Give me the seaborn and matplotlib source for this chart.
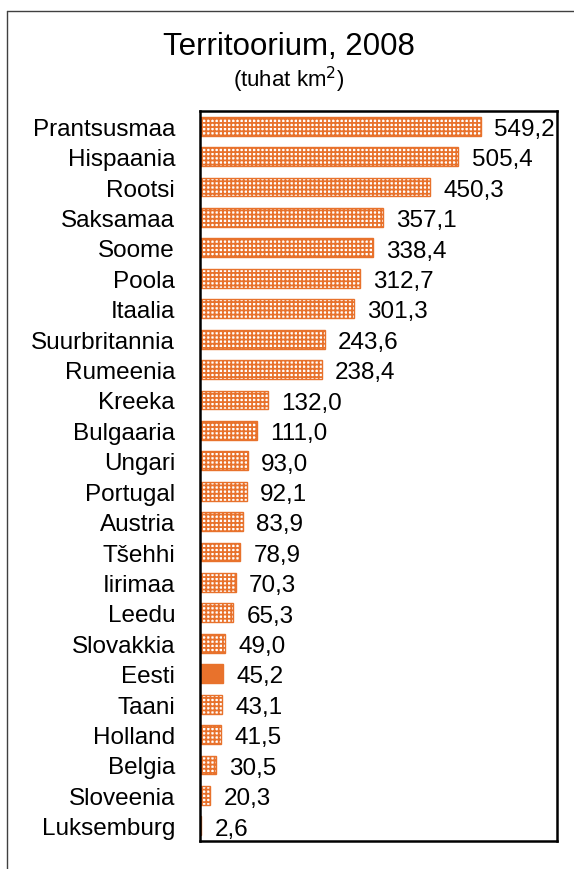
import matplotlib
matplotlib.use("Agg")
import matplotlib.pyplot as plt
from matplotlib.lines import Line2D
import seaborn as sns

countries = ["Prantsusmaa", "Hispaania", "Rootsi", "Saksamaa", "Soome", "Poola",
             "Itaalia", "Suurbritannia", "Rumeenia", "Kreeka", "Bulgaaria", "Ungari",
             "Portugal", "Austria", "Tšehhi", "Iirimaa", "Leedu", "Slovakkia", "Eesti",
             "Taani", "Holland", "Belgia", "Sloveenia", "Luksemburg"]
area = [549.2, 505.4, 450.3, 357.1, 338.4, 312.7, 301.3, 243.6, 238.4, 132.0,
        111.0, 93.0, 92.1, 83.9, 78.9, 70.3, 65.3, 49.0, 45.2, 43.1, 41.5, 30.5,
        20.3, 2.6]
highlight = "Eesti"

ORANGE = "#E8722C"

sns.set_style("white")
plt.rcParams["font.family"] = ["Liberation Sans", "DejaVu Sans"]
plt.rcParams["text.color"] = "black"
plt.rcParams["ytick.color"] = "black"
plt.rcParams["hatch.linewidth"] = 1.3
plt.rcParams["hatch.color"] = ORANGE


def drawchart():
    fig = plt.figure(figsize=(5.74, 8.70), dpi=100)

    # outer frame (runs off the right and bottom edge)
    fig.add_artist(Line2D([7 / 574, 7 / 574], [0, 1 - 12 / 870], color="#404040", lw=1))
    fig.add_artist(Line2D([7 / 574, 1], [1 - 12 / 870, 1 - 12 / 870], color="#404040", lw=1))

    fig.text(0.503, 1 - 47 / 870, "Territoorium, 2008", ha="center", va="center", fontsize=22.5)
    fig.text(0.503, 1 - 80 / 870, r"(tuhat km$^2$)", ha="center", va="center", fontsize=16)

    ax = fig.add_axes([200 / 574, 1 - 842 / 870, 357 / 574, 730 / 870])
    sns.barplot(x=area, y=countries, orient="h", color=ORANGE, width=0.62, ax=ax)

    for name, patch in zip(countries, ax.patches):
        if name == highlight:
            patch.set_facecolor(ORANGE)
            patch.set_edgecolor(ORANGE)
        else:
            patch.set_facecolor("white")
            patch.set_edgecolor(ORANGE)
            patch.set_hatch("++++")
        patch.set_linewidth(1)

    for i, v in enumerate(area):
        ax.annotate(f"{v:.1f}".replace(".", ","), xy=(v, i), xytext=(9.5, -2),
                    textcoords="offset points", ha="left", va="center", fontsize=17.5)

    ax.set_xlim(0, 698)
    ax.set_ylim(23.5, -0.5)
    ax.set_xticks([])
    ax.set_xlabel("")
    ax.set_ylabel("")
    ax.tick_params(axis="y", length=0, pad=18, labelsize=17.5, labelcolor="black")
    for side in ["left", "right", "top", "bottom"]:
        ax.spines[side].set_visible(True)
        ax.spines[side].set_color("black")
        ax.spines[side].set_linewidth(1.8)

    fig.savefig("out.png", dpi=100)


def main():
    drawchart()


if __name__ == "__main__":
    main()
